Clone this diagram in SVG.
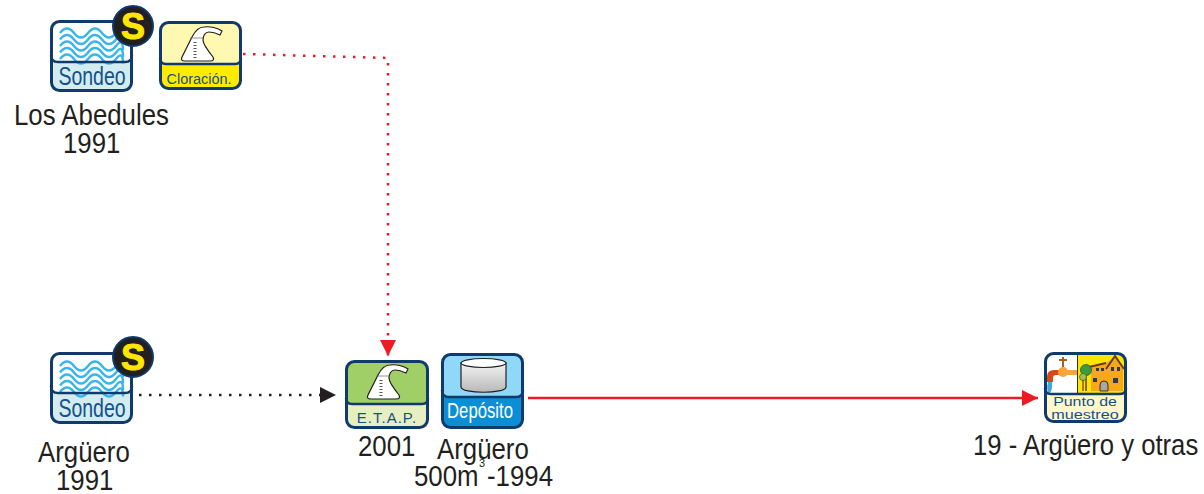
<svg xmlns="http://www.w3.org/2000/svg" width="1204" height="494" viewBox="0 0 1204 494">
<style>
.lbl{font-family:"Liberation Sans",Arial,sans-serif;font-size:29.5px;fill:#231f20}
.sup{font-family:"Liberation Sans",Arial,sans-serif;font-size:11px;fill:#231f20}
.frame{fill:none;stroke:#0f3a6b;stroke-width:3}
.sep{fill:none;stroke:#0f3a6b;stroke-width:2.5}
.cap{font-family:"Liberation Sans",Arial,sans-serif;text-anchor:middle;fill:#15508c}
.wave{fill:none;stroke:#38b6ea;stroke-width:2.4}
.flask{fill:#fff;stroke:#231f20;stroke-width:1.200}
.s{font-family:"Liberation Sans",Arial,sans-serif;font-weight:bold;font-size:36px;fill:#ffe600;stroke:#ffe600;stroke-width:1;text-anchor:middle}
</style>
<defs>
<path id="w" class="wave" d="M0 4q7-9 14 0t14 0 14 0 14 0 7 4.500"/>
<g id="waves">
<use href="#w"/><use href="#w" y="6.500"/><use href="#w" y="13"/><use href="#w" y="19.500"/><use href="#w" y="26"/>
</g>
<g id="badge"><circle r="20" fill="#231f20" stroke="#0f3a6b" stroke-width="2"/><text class="s" y="12.500">S</text></g>
<g id="flask">
<path class="flask" d="M-18 12L-8-8C-5-14-2-18 4-18 10-19 18-17 22-14L20-10C16-12 12-13 9-13 5-13 3-9 3-5 3-2 5 2 13 12Q15 16 10 16H-15Q-20 16-18 12Z"/>
<path d="M-10-7H3" stroke="#777" stroke-width="0.800"/>
<path d="M-5-3V13" stroke="#555" stroke-width="3" stroke-dasharray="1 2"/>
</g>
<linearGradient id="tank" x1="0" x2="0" y1="0" y2="1"><stop offset="0" stop-color="#f4f4f4"/><stop offset="1" stop-color="#b8b8b8"/></linearGradient>
<marker id="ah-red" markerUnits="userSpaceOnUse" markerWidth="16" markerHeight="16" refX="16" refY="8" orient="auto"><path d="M0 0L16 8 0 16Z" fill="#ed1c24"/></marker>
<marker id="ah-blk" markerUnits="userSpaceOnUse" markerWidth="16" markerHeight="16" refX="16" refY="8" orient="auto"><path d="M0 0L16 8 0 16Z" fill="#231f20"/></marker>
</defs>

<g id="connectors" fill="none">
<path d="M243 54L388 58V356" stroke="#ed1c24" stroke-width="2.500" stroke-dasharray="2.500 7.500" marker-end="url(#ah-red)"/>
<path d="M139 395H336" stroke="#231f20" stroke-width="2.500" stroke-dasharray="2.500 7.500" marker-end="url(#ah-blk)"/>
<path d="M528 398H1038" stroke="#ed1c24" stroke-width="2.500" marker-end="url(#ah-red)"/>
</g>

<g id="sondeo-abedules">
<rect x="51" y="21" width="81" height="70" rx="8" fill="#fff"/>
<path d="M51 62H132V83a8 8 0 0 1-8 8H59a8 8 0 0 1-8-8Z" fill="#d3ecf0"/>
<use href="#waves" x="60" y="29"/>
<path class="sep" d="M51 55q0 7 7 7H125q7 0 7-7"/>
<rect class="frame" x="51.500" y="21.500" width="80" height="69" rx="8"/>
<text class="cap" font-size="25" transform="translate(92 85) scale(.78 1)">Sondeo</text>
<use href="#badge" x="133" y="26"/>
<text class="lbl" transform="translate(14 125) scale(.875 1)">Los Abedules</text>
<text class="lbl" transform="translate(63 153) scale(.875 1)">1991</text>
</g>

<g id="cloracion">
<rect x="160" y="22" width="81" height="67" rx="8" fill="#fff8b0"/>
<path d="M160 64H241V81a8 8 0 0 1-8 8H168a8 8 0 0 1-8-8Z" fill="#ffeb00"/>
<use href="#flask" x="200" y="45"/>
<path class="sep" d="M160 58q0 6 6 6H235q6 0 6-6"/>
<rect class="frame" x="160.500" y="22.500" width="80" height="66" rx="8"/>
<text class="cap" font-size="15.500" transform="translate(199 84) scale(.93 1)">Cloración.</text>
</g>

<g id="sondeo-arguero">
<rect x="51" y="353" width="81" height="70" rx="8" fill="#fff"/>
<path d="M51 393H132V415a8 8 0 0 1-8 8H59a8 8 0 0 1-8-8Z" fill="#d3ecf0"/>
<use href="#waves" x="60" y="362"/>
<path class="sep" d="M51 386q0 7 7 7H125q7 0 7-7"/>
<rect class="frame" x="51.500" y="353.500" width="80" height="69" rx="8"/>
<text class="cap" font-size="25" transform="translate(92 417) scale(.78 1)">Sondeo</text>
<use href="#badge" x="133" y="357"/>
<text class="lbl" transform="translate(38 462) scale(.875 1)">Argüero</text>
<text class="lbl" transform="translate(56 490) scale(.875 1)">1991</text>
</g>

<g id="etap">
<rect x="346" y="361" width="82" height="67" rx="8" fill="#a0cf67"/>
<path d="M346 404H428V420a8 8 0 0 1-8 8H354a8 8 0 0 1-8-8Z" fill="#e6efc2"/>
<use href="#flask" x="386" y="383"/>
<path class="sep" d="M346 398q0 6 6 6H422q6 0 6-6"/>
<rect class="frame" x="346.500" y="361.500" width="81" height="66" rx="8"/>
<text class="cap" x="387" y="423" font-size="15" letter-spacing="1">E.T.A.P.</text>
<text class="lbl" transform="translate(358 456) scale(.875 1)">2001</text>
</g>

<g id="deposito">
<rect x="442" y="354" width="81" height="74" rx="8" fill="#8fd8f7"/>
<path d="M442 397H523V420a8 8 0 0 1-8 8H450a8 8 0 0 1-8-8Z" fill="#0a8fd6"/>
<path d="M461 363V387C461 394 506 394 506 387V363Z" fill="url(#tank)" stroke="#231f20" stroke-width="1.200"/>
<ellipse cx="483.500" cy="363" rx="22.500" ry="4.500" fill="#fff" stroke="#231f20" stroke-width="1.200"/>
<path class="sep" d="M442 390q0 7 7 7H516q7 0 7-7"/>
<rect class="frame" x="442.500" y="354.500" width="80" height="73" rx="8"/>
<text class="cap" font-size="22" style="fill:#fff" transform="translate(480 418) scale(.76 1)">Depósito</text>
<text class="lbl" transform="translate(437 459) scale(.875 1)">Argüero</text>
<text class="lbl" transform="translate(414 486) scale(.875 1)">500m</text>
<text class="sup" x="479" y="467">3</text>
<text class="lbl" transform="translate(487 486) scale(.875 1)">-1994</text>
</g>

<g id="punto-muestreo">
<rect x="1045" y="353" width="81" height="69" rx="8" fill="#fff8c9"/>
<rect x="1047" y="355" width="30" height="39" fill="#fff"/>
<path d="M1077 354H1118a7 7 0 0 1 7 7V388q0 6-6 6H1077Z" fill="#ffe600"/>
<path d="M1077.500 354V394" stroke="#333" stroke-width="1"/>
<path d="M1063 357V367M1059 360H1067" stroke="#a8601c" stroke-width="2"/>
<path d="M1047 382V377Q1047 370 1054 370H1077V375H1056Q1053 375 1053 378V382Z" fill="#d9461c"/>
<path d="M1063 370H1077V375H1063Z" fill="#f5a540"/>
<circle cx="1063" cy="372" r="5" fill="#f5a540"/>
<path d="M1048 382Q1046 390 1049 394 1053 390 1052 382Z" fill="#3da9e0"/>
<path d="M1091 366L1106 363 1115 357 1123 369V391H1091Z" fill="#f9a81c"/>
<path d="M1089 367L1106 363M1106 369L1115 356 1124 369" fill="none" stroke="#6b3a10" stroke-width="2"/>
<path d="M1096 368h3v3h-3zM1101 368h3v3h-3zM1111 367h3v4h-3zM1117 367h3v4h-3zM1093 378h4v4h-4zM1113 378h5v5h-5z" fill="#2b3b4a"/>
<path d="M1100 391V385a4 4 0 0 1 8 0V391Z" fill="#a8a8a8" stroke="#4b2a10" stroke-width="1"/>
<circle cx="1086" cy="370" r="5.500" fill="#3d9a3d" stroke="#1e5a22" stroke-width="0.800"/>
<path d="M1086 375V391" stroke="#6b3a10" stroke-width="1.500"/>
<circle cx="1083" cy="377" r="3.500" fill="#a3bf55" stroke="#4a6a22" stroke-width="0.800"/>
<path d="M1083 380V391" stroke="#6b3a10" stroke-width="1.200"/>
<path class="sep" d="M1045 388q0 6 6 6H1120q6 0 6-6"/>
<rect class="frame" x="1045.500" y="353.500" width="80" height="68" rx="8"/>
<text class="cap" font-size="13.500" transform="translate(1085 406) scale(1.18 1)">Punto de</text>
<text class="cap" font-size="13.500" transform="translate(1085 419) scale(1.2 1)">muestreo</text>
<text class="lbl" transform="translate(973 455) scale(.87 1)">19 - Argüero y otras</text>
</g>
</svg>
